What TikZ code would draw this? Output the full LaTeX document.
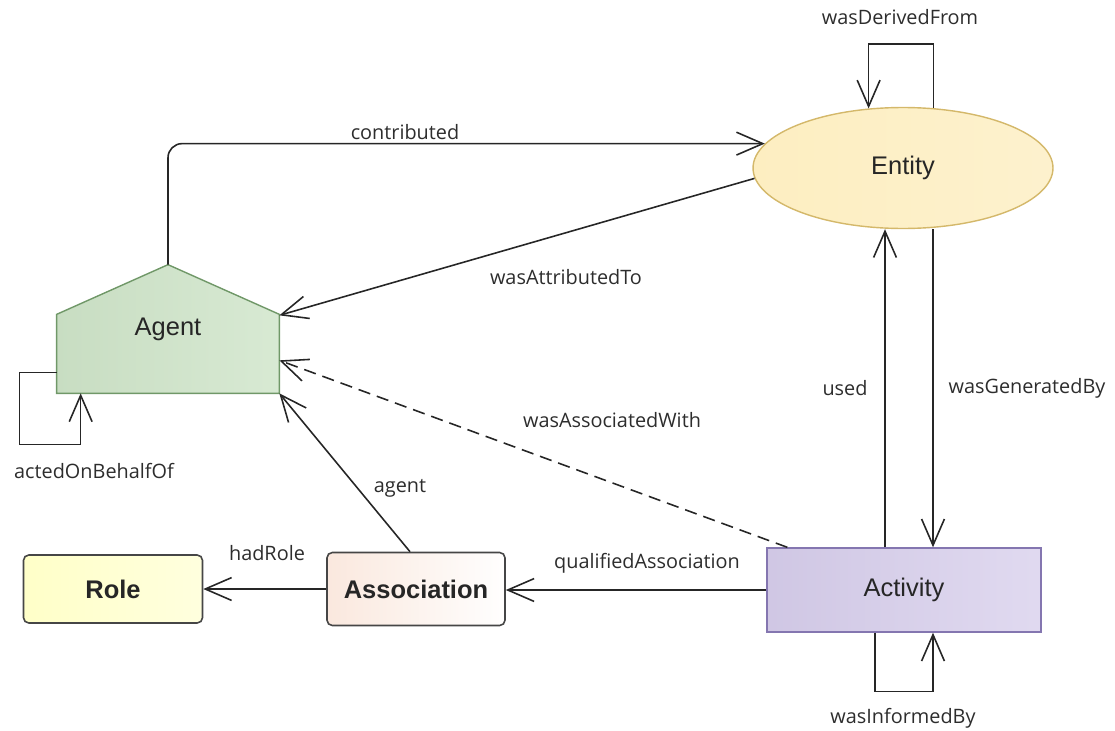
\documentclass[tikz,border=0pt]{standalone}
\usepackage{fontspec}
\setmainfont{Liberation Sans}
\newfontfamily\lblfont{Open Sans}
\usetikzlibrary{positioning, calc, arrows.meta, shapes.geometric}

\definecolor{agentfill}{RGB}{206,228,200}
\definecolor{agentline}{RGB}{112,152,104}
\definecolor{entfill}{RGB}{253,238,193}
\definecolor{entline}{RGB}{212,184,106}
\definecolor{actfill}{RGB}{214,205,235}
\definecolor{actline}{RGB}{132,118,176}
\definecolor{assocfill}{RGB}{250,232,222}
\definecolor{rolefill}{RGB}{255,255,200}
\definecolor{boxline}{RGB}{70,70,70}
\definecolor{lbltext}{RGB}{45,45,45}

\tikzset{
  arr/.style={-{Straight Barb[length=15pt,width=13pt]}, line width=0.9pt, draw=black!85},
  lbl/.style={font=\lblfont\fontsize{11.3}{13}\selectfont, text=lbltext, inner sep=0pt},
  big/.style={font=\fontsize{14.5}{17}\selectfont, text=black!85},
  bigbold/.style={font=\bfseries\fontsize{14.5}{17}\selectfont, text=black!85},
}

\begin{document}
\begin{tikzpicture}[x=0.02cm, y=-0.02cm]
\useasboundingbox (0,0) rectangle (1115,730);

% the five classes
\node[big, minimum width=4.44cm, minimum height=2.56cm] (agent) at (168,329) {};
\filldraw[left color=agentfill!97!black, right color=agentfill!80!white, draw=agentline, line width=0.8pt]
  (agent.south west) -- ++(0,-79) -- (agent.north) -- ($(agent.south east)+(0,-79)$)
  -- (agent.south east) -- cycle;
\node[big] at (agent.center) {Agent};
\coordinate (agshoulder) at ($(agent.south east)+(0,-78)$);
\coordinate (agside) at ($(agent.south east)+(0,-33)$);

\node[big, ellipse, draw=entline, line width=0.8pt, left color=entfill, right color=entfill!80!white,
  minimum width=6cm, minimum height=2.42cm] (entity) at (903,168) {Entity};
\node[big, draw=actline, line width=0.8pt, left color=actfill!97!black, right color=actfill!75!white,
  minimum width=5.48cm, minimum height=1.68cm] (activity) at (904,590) {Activity};
\node[bigbold, draw=boxline, line width=0.9pt, rounded corners=3pt, left color=assocfill, right color=white!97!assocfill,
  minimum width=3.56cm, minimum height=1.46cm] (assoc) at (416,589) {Association};
\node[bigbold, draw=boxline, line width=0.9pt, rounded corners=3pt, left color=rolefill, right color=rolefill!60!white,
  minimum width=3.58cm, minimum height=1.36cm] (role) at (113,589) {Role};

% relations
\draw[arr, rounded corners=8pt] (agent.north) |- (entity.170);
\draw[arr] (entity.184) -- (agshoulder);
\draw[arr, dash pattern=on 7pt off 4pt] ([xshift=0.42cm]activity.north west) -- (agside);
\draw[arr] ([xshift=-0.12cm]assoc.north) -- (agent.south east);
\draw[arr] (assoc.west) -- (role.east);
\draw[arr] (activity.west) -- (activity.west -| assoc.east);
\draw[arr] ([xshift=-0.38cm]activity.north) -- ([xshift=-0.38cm]activity.north |- entity.south);
\draw[arr] ([xshift=0.6cm]entity.south) -- ([xshift=0.6cm]entity.south |- activity.north);
\draw[arr] (entity.63) -- ++(0,-64) -| (entity.120);
\draw[arr] ([xshift=-0.58cm]activity.south) -- ++(0,59) -| ([xshift=0.58cm]activity.south);
\draw[arr] ([yshift=0.42cm]agent.south west) -| ++(-37,72) -| ([xshift=0.48cm]agent.south west);

% labels
\node[lbl] (lcontrib) at (405,132) {contributed};
\node[lbl] (lattrib) at (566,277) {wasAttributedTo};
\node[lbl] (lassoc) at (612,420) {wasAssociatedWith};
\node[lbl] (lbehalf) at (94,471) {actedOnBehalfOf};
\node[lbl] (lqual) at (647,563) {qualifiedAssociation};
\node[lbl] (lused) at (845,388) {used};
\node[lbl] (lgen) at (1027,388) {wasGeneratedBy};
\node[lbl] (lderiv) at (900,17) {wasDerivedFrom};
\node[lbl] (linform) at (903,718) {wasInformedBy};
\node[lbl] (lrole) at (267,553) {hadRole};
\node[lbl] (lagent) at (400,488) {agent};
\end{tikzpicture}
\end{document}
